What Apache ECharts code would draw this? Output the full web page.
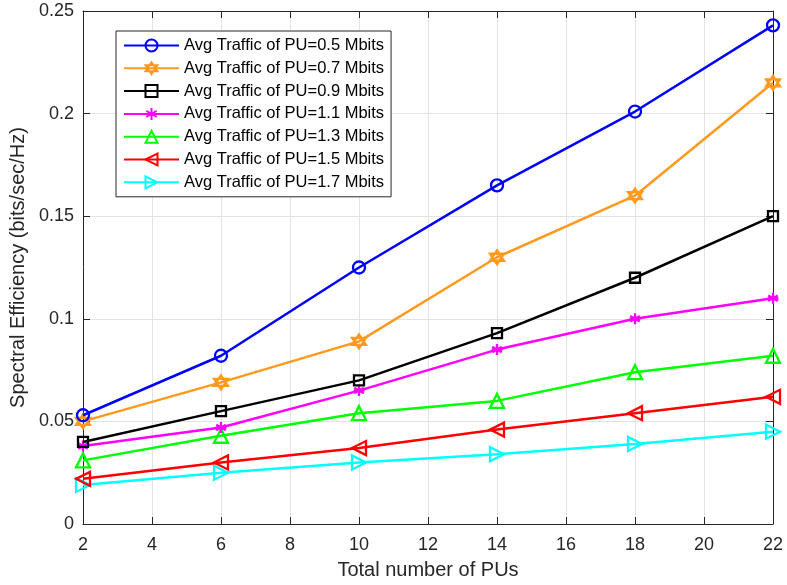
<!DOCTYPE html>
<html>
<head>
<meta charset="utf-8">
<script src="https://cdn.jsdelivr.net/npm/echarts@6/dist/echarts.min.js"></script>
<style>
  html, body { margin: 0; padding: 0; background: #fff; }
  #chart { width: 787px; height: 585px; }
</style>
</head>
<body>
<div id="chart"></div>
<script>
// Number of primary users on the x axis
const puCounts = [2, 6, 10, 14, 18, 22];

// Spectral efficiency (bits/sec/Hz) for each average PU traffic load
const se05 = [0.053, 0.082, 0.125, 0.165, 0.201, 0.243];
const se07 = [0.050, 0.069, 0.089, 0.130, 0.160, 0.215];
const se09 = [0.040, 0.055, 0.070, 0.093, 0.120, 0.150];
const se11 = [0.038, 0.047, 0.065, 0.085, 0.100, 0.110];
const se13 = [0.031, 0.043, 0.054, 0.060, 0.074, 0.082];
const se15 = [0.022, 0.030, 0.037, 0.046, 0.054, 0.062];
const se17 = [0.019, 0.025, 0.030, 0.034, 0.039, 0.045];

const seriesNames = [
  'Avg Traffic of PU=0.5 Mbits',
  'Avg Traffic of PU=0.7 Mbits',
  'Avg Traffic of PU=0.9 Mbits',
  'Avg Traffic of PU=1.1 Mbits',
  'Avg Traffic of PU=1.3 Mbits',
  'Avg Traffic of PU=1.5 Mbits',
  'Avg Traffic of PU=1.7 Mbits'
];
const seriesValues = [se05, se07, se09, se11, se13, se15, se17];
const colors = ['#0000ff', '#ff9a1f', '#000000', '#ff00ff', '#00ff00', '#ff0000', '#00ffff'];

// Marker shapes: hollow circle, hexagram, hollow square, asterisk, hollow triangles
const hexagram = 'path://M0,-10L8.66,5L-8.66,5Z M0,10L8.66,-5L-8.66,-5Z';
const asterisk = 'path://M0,-10L0,10M-8.66,-5L8.66,5M-8.66,5L8.66,-5M-10,0L10,0';
const triUp = 'path://M0,-10L8.66,5L-8.66,5Z';
const triLeft = 'path://M-10,0L5,-8.66L5,8.66Z';
const triRight = 'path://M10,0L-5,-8.66L-5,8.66Z';
const markers = [
  { symbol: 'circle', size: 12 },
  { symbol: hexagram, size: 14 },
  { symbol: 'rect', size: 10 },
  { symbol: asterisk, size: 11 },
  { symbol: triUp, size: 14 },
  { symbol: triLeft, size: 14 },
  { symbol: triRight, size: 14 }
];

const font = '"Liberation Sans", Arial, Helvetica, sans-serif';
const textColor = '#262626';
const boxColor = '#262626';

const series = seriesNames.map((name, i) => ({
  name: name,
  type: 'line',
  xAxisIndex: 0,
  yAxisIndex: 0,
  data: puCounts.map((x, j) => [x, seriesValues[i][j]]),
  symbol: markers[i].symbol,
  symbolSize: markers[i].size,
  showAllSymbol: true,
  lineStyle: { color: colors[i], width: 2.5 },
  itemStyle: {
    color: (i === 3) ? colors[i] : 'rgba(255,255,255,0)',
    borderColor: colors[i],
    borderWidth: 2.3
  },
  emphasis: { disabled: true },
  animation: false,
  z: 10 - i
}));

const chart = echarts.init(document.getElementById('chart'), null, { renderer: 'canvas' });

chart.setOption({
  backgroundColor: '#ffffff',
  animation: false,
  textStyle: { fontFamily: font },
  grid: { left: 83, right: 14, top: 11, bottom: 61, containLabel: false, show: false },
  legend: {
    data: seriesNames,
    orient: 'vertical',
    left: 116,
    top: 31,
    itemWidth: 55,
    itemHeight: 15,
    itemGap: 5.8,
    padding: [6, 7, 6, 7],
    backgroundColor: '#ffffff',
    borderColor: boxColor,
    borderWidth: 1,
    borderRadius: 0,
    textStyle: { fontFamily: font, fontSize: 16.5, color: '#000' },
    selectedMode: false
  },
  xAxis: [
    {
      type: 'value',
      min: 2, max: 22, interval: 2,
      position: 'bottom',
      name: 'Total number of PUs',
      nameLocation: 'middle',
      nameGap: 36,
      nameTextStyle: { fontFamily: font, fontSize: 20, color: textColor },
      axisLine: { show: true, onZero: false, lineStyle: { color: boxColor, width: 1 } },
      axisTick: { show: true, inside: true, length: 7, lineStyle: { color: boxColor } },
      axisLabel: { fontFamily: font, fontSize: 18, color: textColor, margin: 12 },
      splitLine: { show: true, lineStyle: { color: '#e3e3e3', width: 1 } }
    },
    {
      type: 'value',
      min: 2, max: 22, interval: 2,
      position: 'top',
      axisLine: { show: true, onZero: false, lineStyle: { color: boxColor, width: 1 } },
      axisTick: { show: true, inside: true, length: 7, lineStyle: { color: boxColor } },
      axisLabel: { show: false },
      splitLine: { show: false }
    }
  ],
  yAxis: [
    {
      type: 'value',
      min: 0, max: 0.25, interval: 0.05,
      position: 'left',
      name: 'Spectral Efficiency (bits/sec/Hz)',
      nameLocation: 'middle',
      nameGap: 51,
      nameTextStyle: { fontFamily: font, fontSize: 20, color: textColor },
      axisLine: { show: true, onZero: false, lineStyle: { color: boxColor, width: 1 } },
      axisTick: { show: true, inside: true, length: 7, lineStyle: { color: boxColor } },
      axisLabel: { fontFamily: font, fontSize: 18, color: textColor, margin: 9 },
      splitLine: { show: true, lineStyle: { color: '#e3e3e3', width: 1 } }
    },
    {
      type: 'value',
      min: 0, max: 0.25, interval: 0.05,
      position: 'right',
      axisLine: { show: true, onZero: false, lineStyle: { color: boxColor, width: 1 } },
      axisTick: { show: true, inside: true, length: 7, lineStyle: { color: boxColor } },
      axisLabel: { show: false },
      splitLine: { show: false }
    }
  ],
  series: series
});
</script>
</body>
</html>
